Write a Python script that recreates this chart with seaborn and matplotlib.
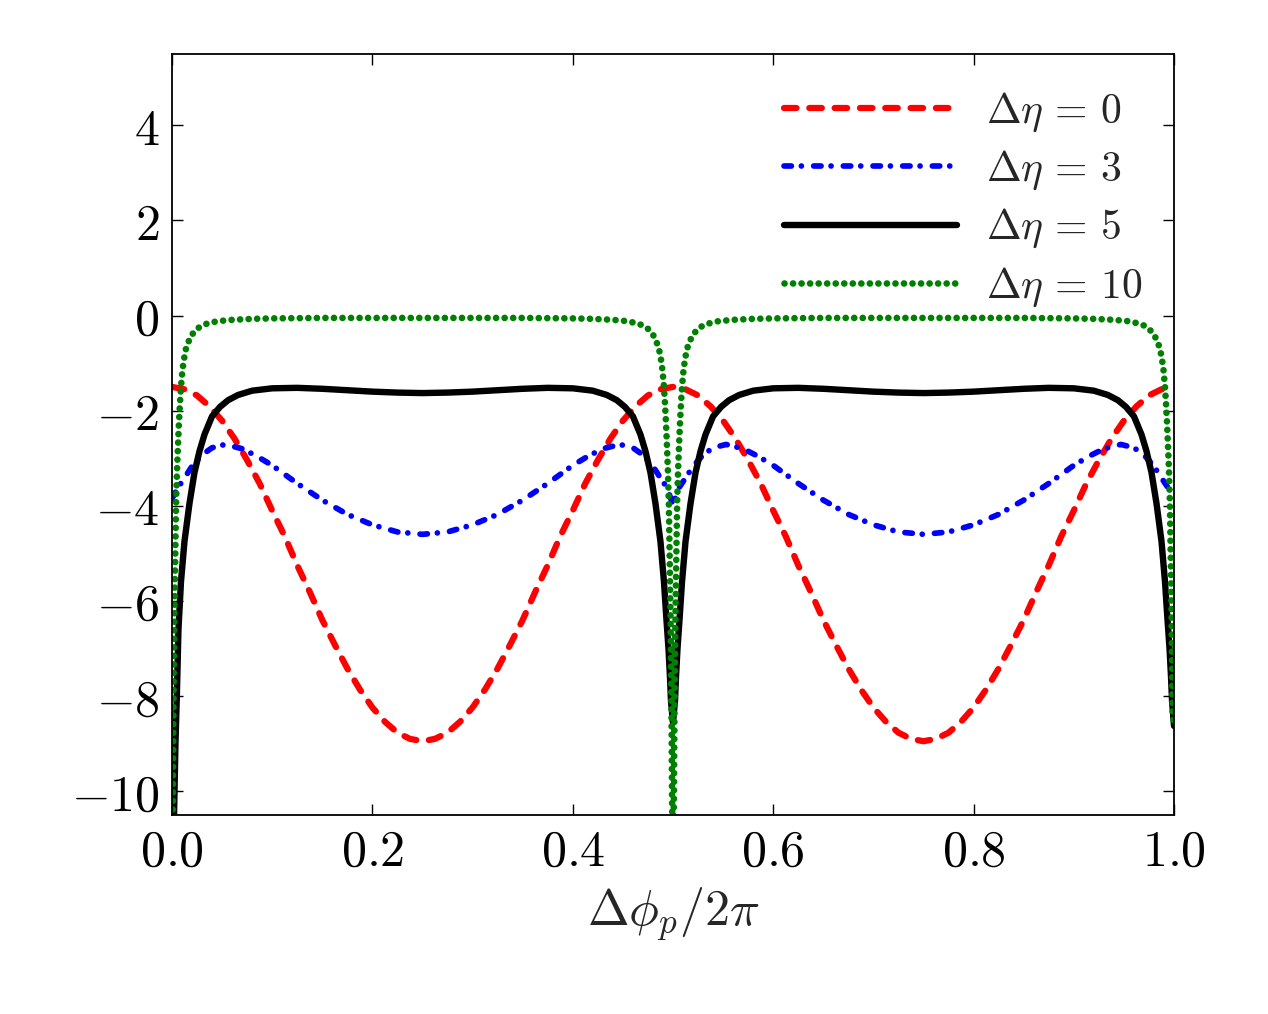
import numpy as np
import pandas as pd
import matplotlib
matplotlib.use("Agg")
import matplotlib.pyplot as plt
import seaborn as sns

# ---------- data (x = Δφ_p / 2π) ----------
# Δη = 0 (red dashed), every 0.0125
eta0_x = [i / 80 for i in range(81)]
eta0_y = [-1.50, -1.55, -1.68, -1.91, -2.21, -2.59, -3.04, -3.53, -4.10, -4.64,
          -5.25, -5.81, -6.40, -6.92, -7.42, -7.86, -8.24, -8.54, -8.77, -8.90,
          -8.95, -8.90, -8.77, -8.54, -8.24, -7.86, -7.42, -6.92, -6.40, -5.81,
          -5.25, -4.64, -4.10, -3.53, -3.04, -2.59, -2.21, -1.91, -1.68, -1.55,
          -1.50, -1.55, -1.68, -1.91, -2.21, -2.59, -3.04, -3.53, -4.10, -4.64,
          -5.25, -5.81, -6.40, -6.92, -7.42, -7.86, -8.24, -8.54, -8.77, -8.90,
          -8.95, -8.90, -8.77, -8.54, -8.24, -7.86, -7.42, -6.92, -6.40, -5.81,
          -5.25, -4.64, -4.10, -3.53, -3.04, -2.59, -2.21, -1.91, -1.68, -1.55,
          -1.50]

# Δη = 3 (blue dash-dot)
eta3_x = [0.000, 0.006, 0.013, 0.020, 0.030, 0.040, 0.053, 0.070, 0.085, 0.100, 0.125,
          0.150, 0.175, 0.200, 0.225, 0.250, 0.275, 0.300, 0.325, 0.350, 0.375, 0.400,
          0.415, 0.430, 0.447, 0.460, 0.470, 0.480, 0.487, 0.494, 0.500,
          0.506, 0.513, 0.520, 0.530, 0.540, 0.553, 0.570, 0.585, 0.600, 0.625,
          0.650, 0.675, 0.700, 0.725, 0.750, 0.775, 0.800, 0.825, 0.850, 0.875, 0.900,
          0.915, 0.930, 0.947, 0.960, 0.970, 0.980, 0.987, 0.994, 1.000]
eta3_y = [-3.85, -3.62, -3.40, -3.17, -2.93, -2.78, -2.71, -2.80, -2.96, -3.15, -3.53,
          -3.88, -4.18, -4.40, -4.55, -4.60, -4.55, -4.40, -4.18, -3.88, -3.53, -3.15,
          -2.96, -2.80, -2.71, -2.78, -2.93, -3.17, -3.40, -3.62, -3.98,
          -3.62, -3.40, -3.17, -2.93, -2.78, -2.71, -2.80, -2.96, -3.15, -3.53,
          -3.88, -4.18, -4.40, -4.55, -4.60, -4.55, -4.40, -4.18, -3.88, -3.53, -3.15,
          -2.96, -2.80, -2.71, -2.78, -2.93, -3.17, -3.40, -3.62, -3.75]

# Δη = 5 (black solid)
eta5_x = [0.000, 0.002, 0.0035, 0.005, 0.0065, 0.009, 0.0125, 0.0175, 0.0225, 0.0275,
          0.0325, 0.040, 0.048, 0.056, 0.066, 0.080, 0.100, 0.125, 0.150, 0.175, 0.200,
          0.225, 0.250, 0.275, 0.300, 0.325, 0.350, 0.375, 0.400, 0.420, 0.434, 0.444,
          0.452, 0.460, 0.4675, 0.4725, 0.4775, 0.4825, 0.4875, 0.491, 0.4935, 0.4955,
          0.497, 0.498, 0.500,
          0.502, 0.503, 0.5045, 0.5065, 0.509, 0.5125, 0.5175, 0.5225, 0.5275, 0.5325,
          0.540, 0.548, 0.556, 0.566, 0.580, 0.600, 0.625, 0.650, 0.675, 0.700, 0.725,
          0.750, 0.775, 0.800, 0.825, 0.850, 0.875, 0.900, 0.920, 0.934, 0.944, 0.952,
          0.960, 0.9675, 0.9725, 0.9775, 0.9825, 0.9875, 0.991, 0.9935, 0.9955, 0.997,
          0.998, 1.000]
eta5_y = [-12.0, -10.6, -9.0, -7.9, -6.6, -5.6, -4.75, -3.95, -3.30, -2.85,
          -2.50, -2.12, -1.92, -1.78, -1.67, -1.58, -1.53, -1.52, -1.54, -1.57, -1.60,
          -1.62, -1.63, -1.62, -1.60, -1.57, -1.54, -1.52, -1.53, -1.58, -1.67, -1.78,
          -1.92, -2.12, -2.50, -2.85, -3.30, -3.95, -4.75, -5.60, -6.40, -7.00,
          -7.60, -8.10, -8.55,
          -8.10, -7.60, -7.00, -6.40, -5.60, -4.75, -3.95, -3.30, -2.85, -2.50,
          -2.12, -1.92, -1.78, -1.67, -1.58, -1.53, -1.52, -1.54, -1.57, -1.60, -1.62,
          -1.63, -1.62, -1.60, -1.57, -1.54, -1.52, -1.53, -1.58, -1.67, -1.78, -1.92,
          -2.12, -2.50, -2.85, -3.30, -3.95, -4.75, -5.60, -6.40, -7.00, -7.60,
          -8.10, -8.63]

# Δη = 10 (green dotted)
eta10_x = [0.000, 0.001, 0.0015, 0.002, 0.0027, 0.0035, 0.0042, 0.005, 0.006, 0.007,
           0.008, 0.009, 0.0105, 0.012, 0.014, 0.0165, 0.020, 0.025, 0.030, 0.035,
           0.045, 0.060, 0.080, 0.100, 0.150, 0.200, 0.250,
           0.300, 0.350, 0.400, 0.420, 0.440, 0.455, 0.465, 0.470, 0.475, 0.480,
           0.4835, 0.486, 0.488, 0.4895, 0.491, 0.492, 0.493, 0.494, 0.495, 0.4958,
           0.4965, 0.4973, 0.498, 0.4985, 0.499, 0.500,
           0.501, 0.5015, 0.502, 0.5027, 0.5035, 0.5042, 0.505, 0.506, 0.507, 0.508,
           0.509, 0.5105, 0.512, 0.514, 0.5165, 0.520, 0.525, 0.530, 0.535, 0.545,
           0.560, 0.580, 0.600, 0.650, 0.700, 0.750,
           0.800, 0.850, 0.900, 0.920, 0.940, 0.955, 0.965, 0.970, 0.975, 0.980,
           0.9835, 0.986, 0.988, 0.9895, 0.991, 0.992, 0.993, 0.994, 0.995, 0.9958,
           0.9965, 0.9973, 0.998, 0.9985, 1.000]
eta10_y = [-12.0, -10.0, -8.3, -7.2, -5.97, -4.8, -3.9, -3.3, -2.75, -2.25,
           -1.85, -1.5, -1.15, -0.92, -0.70, -0.55, -0.40, -0.28, -0.21, -0.17,
           -0.12, -0.09, -0.07, -0.06, -0.05, -0.05, -0.05,
           -0.05, -0.05, -0.06, -0.07, -0.09, -0.12, -0.17, -0.21, -0.28, -0.40,
           -0.55, -0.70, -0.92, -1.15, -1.5, -1.85, -2.25, -2.75, -3.3, -3.9,
           -4.8, -5.97, -7.2, -8.3, -10.0, -12.0,
           -10.0, -8.3, -7.2, -5.97, -4.8, -3.9, -3.3, -2.75, -2.25, -1.85,
           -1.5, -1.15, -0.92, -0.70, -0.55, -0.40, -0.28, -0.21, -0.17, -0.12,
           -0.09, -0.07, -0.06, -0.05, -0.05, -0.05,
           -0.05, -0.05, -0.06, -0.07, -0.09, -0.12, -0.17, -0.21, -0.28, -0.40,
           -0.55, -0.70, -0.92, -1.15, -1.5, -1.85, -2.25, -2.75, -3.3, -3.9,
           -4.8, -5.97, -7.2, -8.3, -8.63]

labels = [r'$\Delta\eta\,=\,0$', r'$\Delta\eta\,=\,3$', r'$\Delta\eta\,=\,5$',
          r'$\Delta\eta\,=\,10$']
xticks = [0.0, 0.2, 0.4, 0.6, 0.8, 1.0]
yticks = [-10, -8, -6, -4, -2, 0, 2, 4]

# ---------- style ----------
sns.set_style('ticks', {'axes.edgecolor': 'black', 'xtick.direction': 'in',
                        'ytick.direction': 'in', 'xtick.color': 'black',
                        'ytick.color': 'black'})
plt.rcParams['font.family'] = ['DejaVu Serif']
plt.rcParams['mathtext.fontset'] = 'cm'

fig = plt.figure(figsize=(12.68, 10.14), dpi=100)
ax = fig.add_axes([0.1356, 0.1963, 0.7903, 0.7505])

sns.lineplot(x=eta0_x, y=eta0_y, ax=ax, color='#ff0000', lw=4.5, sort=False,
             estimator=None, linestyle=(0, (2.0, 2.05)), dash_capstyle='round',
             label=labels[0])
sns.lineplot(x=eta3_x, y=eta3_y, ax=ax, color='#0000ff', lw=4.1, sort=False,
             estimator=None, linestyle=(0, (1.3, 1.75, 0.01, 2.15)),
             dash_capstyle='round', label=labels[1])
sns.lineplot(x=eta5_x, y=eta5_y, ax=ax, color='black', lw=4.6, sort=False,
             estimator=None, label=labels[2])
sns.lineplot(x=eta10_x, y=eta10_y, ax=ax, color='#008000', lw=4.8, sort=False,
             estimator=None, linestyle=(0, (0.01, 1.27)), dash_capstyle='round',
             label=labels[3])

ax.set_xlim(0, 1)
ax.set_ylim(-10.5, 5.5)
ax.set_xticks(xticks)
ax.set_xticklabels([f'${v:.1f}$' for v in xticks])
ax.set_yticks(yticks)
ax.set_yticklabels([f'${v}$' for v in yticks])
ax.tick_params(top=True, right=True, length=8, width=1, labelsize=36, pad=9)
for s in ax.spines.values():
    s.set_linewidth(1.3)

ax.set_xlabel(r'$\Delta\phi_p/2\pi$', fontsize=36, labelpad=6)
ax.set_ylabel('')

ax.legend(loc='upper left', bbox_to_anchor=(0.611, 0.953), frameon=False,
          fontsize=30, handlelength=4.15, handletextpad=0.7, labelspacing=0.34,
          borderpad=0, borderaxespad=0)

fig.savefig('out.png', dpi=100)
